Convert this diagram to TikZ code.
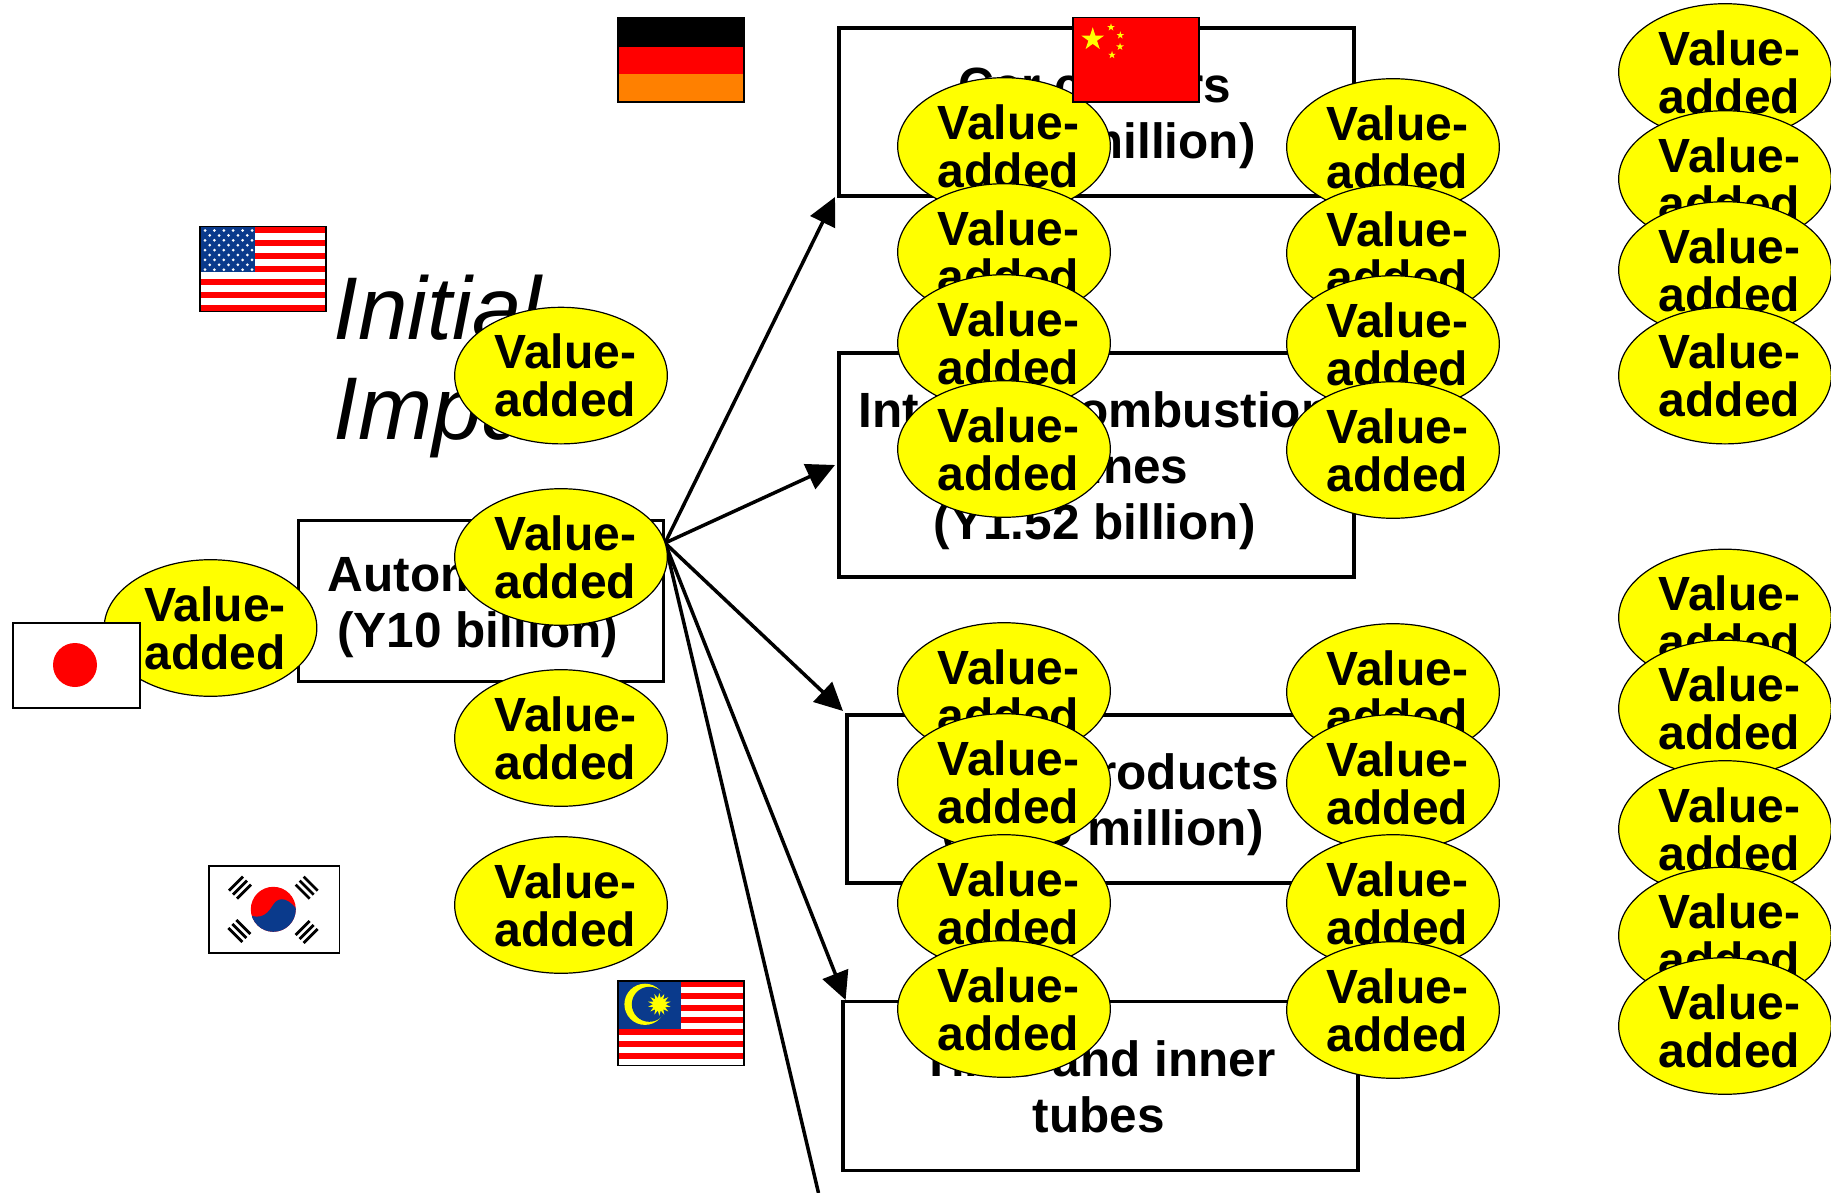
\documentclass[tikz,border=0pt]{standalone}
\usepackage{fontspec}
\setmainfont{Liberation Sans}
\usetikzlibrary{arrows.meta,shapes.geometric}
\definecolor{flagblue}{HTML}{0A3A8C}
\definecolor{flagorange}{HTML}{FF8000}
\definecolor{blobyellow}{RGB}{255,255,0}
\newcommand{\valueadded}{\hspace*{9pt}Value-\\\hspace*{9pt}added}
\newcommand{\nudge}{\hspace*{-3.4pt}}
\newcommand{\toprow}{\nudge\rule{0pt}{49.5pt}}
\newcommand{\botrow}{\nudge\rule[-12.4pt]{0pt}{12.4pt}}
\tikzset{
	every node/.style = {font=\bfseries},
	flagbox/.style = {draw, line width=1.5pt, anchor=north west, inner sep=0pt, outer sep=0pt, minimum width=126pt, minimum height=84.5pt},
	itembox/.style = {draw, line width=3.5pt, fill=white, inner sep=0pt, minimum width=515pt, align=center, font=\fontsize{49.5}{56}\selectfont\bfseries},
	vablob/.style = {ellipse, draw, line width=1.2pt, fill=blobyellow, inner sep=0pt, minimum width=211pt, minimum height=136.6pt, align=center, font=\fontsize{48}{48}\selectfont\bfseries},
	linkarrow/.style = {line width=3.5pt, -{Triangle[length=28pt,width=27pt]}}
}
\begin{document}
\begin{tikzpicture}[x=1pt, y=-1pt]
	\useasboundingbox (0,0) rectangle (1831,1193);
	% title
	\node (impact) [anchor=north west, inner sep=0pt, align=left, font=\fontsize{89}{100}\selectfont\itshape] at (333.5,275) {Initial\\Impact};
	% boxes
	\node (auto) [itembox, minimum width=365pt, minimum height=161pt] at (481,601) {\nudge\toprow Automobiles\\\nudge\botrow(Y10 billion)};
	\node (chassis) [itembox, minimum height=168pt] at (1096.5,112) {\toprow Car coolers\\\botrow(Y300 million)};
	\node (engine) [itembox, minimum height=224pt] at (1096.5,465) {\toprow Internal combustion\\\nudge engines\\\botrow(Y1.52 billion)};
	\node (steel) [itembox, minimum height=168pt] at (1104.5,799) {\toprow Metal products\\\botrow(Y300 million)};
	\node (tire) [itembox, minimum height=169pt] at (1100.5,1086) {\toprow Tires and inner\\\botrow tubes};
	% arrows
	\coordinate (hub) at (665,543);
	\coordinate (offpage) at (818.5,1193);
	\draw [linkarrow] (hub) -- (835,197);
	\draw [linkarrow] (hub) -- (835,465);
	\draw [linkarrow] (hub) -- (843,711);
	\draw [linkarrow] (hub) -- (845.6,1000);
	\draw [line width=3.5pt] (hub) -- (offpage);
	% value-added blobs
	\node (vaA) [vablob] at (210.5,628) {\valueadded};
	\foreach \y [count=\i] in {375.6,557,738,905}
		\node (vaB\i) [vablob] at (561,\y) {\valueadded};
	\foreach \y [count=\i] in {146,252,343,449,691,782,903,1009}
		\node (vaC\i) [vablob] at (1004,\y) {\valueadded};
	\foreach \y [count=\i] in {147,253,344,450,692,783,903,1010}
		\node (vaD\i) [vablob] at (1393,\y) {\valueadded};
	\foreach \y [count=\i] in {72,179,270,375.6,617.5,708.5,829,935.5,1026}
		\node (vaE\i) [vablob] at (1725,\y) {\valueadded};
	% germany
	\node (germany) [flagbox, fill=flagorange] at (617.75,17.75) {};
	\fill [red] (germany.north west) rectangle (743.75,74);
	\fill (germany.north west) rectangle (743.75,47.5);
	\draw [line width=1.5pt] (germany.north west) rectangle (germany.south east);
	% china
	\node (china) [flagbox, fill=red] at (1072.75,17.75) {};
	\node (chinastar) [star, star points=5, star point ratio=2.618, fill=blobyellow, inner sep=0pt, minimum size=24pt] at (1092.7,39.3) {};
	\foreach \x/\y [count=\i] in {1111/27.3,1120.3/35.3,1120/46.7,1112/55}
		\node (chinasmall\i) [star, star points=5, star point ratio=2.618, fill=blobyellow, inner sep=0pt, minimum size=8pt] at (\x,\y) {};
	% usa
	\node (usa) [flagbox, fill=white] at (199.75,226.75) {};
	\foreach \k in {0,2,...,12}
		\fill [red] (199.75,226.75+\k*6.5) rectangle (325.75,226.75+\k*6.5+6.5);
	\fill [flagblue] (199.75,226.75) rectangle (255,272.3);
	\foreach \r in {0,2,...,8}
		\foreach \c in {0,...,5}
			\fill [white] (205+\c*9.4,230.5+\r*4.9) circle (1.5pt);
	\foreach \r in {1,3,...,7}
		\foreach \c in {0,...,4}
			\fill [white] (209.7+\c*9.4,230.5+\r*4.9) circle (1.5pt);
	\draw [line width=1.5pt] (usa.north west) rectangle (usa.south east);
	% japan
	\node (japan) [flagbox, fill=white, line width=2pt, minimum width=127pt, minimum height=85pt] at (12.5,623) {};
	\node (sun) [circle, fill=red, inner sep=0pt, minimum size=44pt] at (75,665) {};
	% korea
	\node (korea) [flagbox, fill=white, minimum width=130.5pt, minimum height=87pt] at (208.75,865.75) {};
	\begin{scope}
		\clip (273.3,909.3) circle (22.5pt);
		\fill [red] (240,880) rectangle (310,940);
		\fill [flagblue] (240,940) -- (240,911) .. controls (258,921) and (266,917) .. (273,905) .. controls (279,895) and (290,898) .. (300,914) -- (300,940) -- cycle;
	\end{scope}
	\foreach \x/\y/\s in {240/887.7/1,306.7/887.7/-1,239.3/931/-1,306.7/932/1}
		\foreach \k in {-4,0,4}
			\draw [line width=2.8pt] (\x+\k-7,\y+\s*\k+\s*7) -- (\x+\k+7,\y+\s*\k-\s*7);
	% malaysia
	\node (malaysia) [flagbox, fill=white] at (617.75,980.75) {};
	\foreach \k in {0,2,...,12}
		\fill [red] (617.75,980.75+\k*6.036) rectangle (743.75,980.75+\k*6.036+6.036);
	\fill [flagblue] (617.75,980.75) rectangle (680.7,1029.1);
	\fill [blobyellow] (645,1004.3) circle (20.6pt);
	\fill [flagblue] (649.3,1004.3) circle (17.5pt);
	\node (msun) [star, star points=14, star point ratio=1.8, fill=blobyellow, inner sep=0pt, minimum size=23pt] at (659.3,1004.3) {};
	\draw [line width=1.5pt] (malaysia.north west) rectangle (malaysia.south east);
\end{tikzpicture}
\end{document}
